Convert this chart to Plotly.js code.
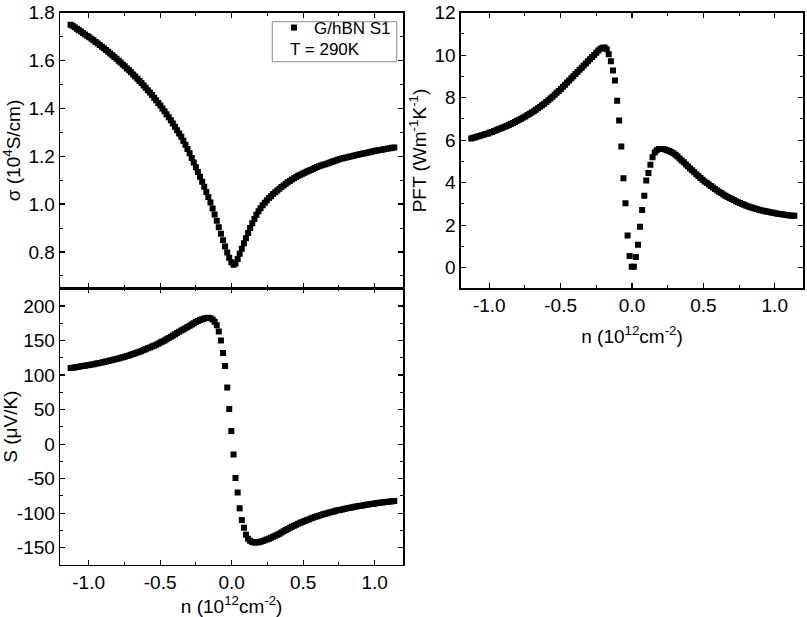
<!DOCTYPE html>
<html>
<head>
<meta charset="utf-8">
<script src="https://cdn.plot.ly/plotly-3.0.1.min.js"></script>
<style>html,body{margin:0;padding:0;background:#fff;}#chart{width:807px;height:617px;}</style>
</head>
<body>
<div id="chart"></div>
<script>
// carrier density n (10^12 cm^-2)
const n = [
-1.126,-1.112,-1.097,-1.082,-1.068,-1.053,-1.039,-1.024,-1.009,-0.995,
-0.980,-0.966,-0.951,-0.936,-0.922,-0.907,-0.893,-0.878,-0.863,-0.849,
-0.834,-0.820,-0.805,-0.790,-0.776,-0.761,-0.747,-0.732,-0.717,-0.703,
-0.688,-0.674,-0.659,-0.644,-0.630,-0.615,-0.601,-0.586,-0.571,-0.557,
-0.542,-0.528,-0.513,-0.498,-0.484,-0.469,-0.455,-0.440,-0.425,-0.411,
-0.396,-0.382,-0.367,-0.352,-0.338,-0.323,-0.309,-0.294,-0.279,-0.265,
-0.250,-0.236,-0.221,-0.206,-0.192,-0.177,-0.163,-0.148,-0.133,-0.119,
-0.104,-0.090,-0.075,-0.060,-0.046,-0.031,-0.017,-0.002,0.013,0.027,
0.042,0.056,0.071,0.086,0.100,0.115,0.129,0.144,0.159,0.173,
0.188,0.202,0.217,0.232,0.246,0.261,0.275,0.290,0.305,0.319,
0.334,0.348,0.363,0.378,0.392,0.407,0.421,0.436,0.451,0.465,
0.480,0.494,0.509,0.524,0.538,0.553,0.567,0.582,0.597,0.611,
0.626,0.640,0.655,0.670,0.684,0.699,0.713,0.728,0.743,0.757,
0.772,0.786,0.801,0.816,0.830,0.845,0.859,0.874,0.889,0.903,
0.918,0.932,0.947,0.962,0.976,0.991,1.005,1.020,1.035,1.049,
1.064,1.078,1.093,1.108,1.122,1.137];

// conductivity sigma (10^4 S/cm)
const sigma = [
1.750,1.745,1.739,1.733,1.727,1.721,1.715,1.709,1.703,1.697,
1.691,1.685,1.678,1.671,1.665,1.658,1.651,1.644,1.637,1.629,
1.622,1.615,1.607,1.599,1.592,1.584,1.576,1.567,1.559,1.551,
1.542,1.533,1.524,1.515,1.506,1.496,1.486,1.476,1.466,1.456,
1.445,1.434,1.423,1.412,1.400,1.388,1.376,1.363,1.350,1.337,
1.323,1.309,1.295,1.281,1.265,1.248,1.230,1.212,1.193,1.174,
1.154,1.134,1.114,1.093,1.072,1.051,1.030,1.007,0.982,0.956,
0.930,0.903,0.876,0.849,0.823,0.798,0.776,0.757,0.746,0.752,
0.770,0.792,0.813,0.836,0.857,0.879,0.900,0.920,0.938,0.955,
0.970,0.983,0.995,1.006,1.016,1.025,1.033,1.042,1.050,1.057,
1.064,1.071,1.078,1.085,1.091,1.097,1.103,1.108,1.113,1.118,
1.123,1.127,1.131,1.135,1.139,1.143,1.147,1.151,1.155,1.158,
1.161,1.164,1.167,1.170,1.173,1.176,1.179,1.182,1.185,1.188,
1.191,1.193,1.195,1.197,1.199,1.201,1.203,1.205,1.207,1.209,
1.211,1.213,1.215,1.217,1.219,1.221,1.223,1.224,1.226,1.227,
1.229,1.230,1.232,1.233,1.235,1.237];

// Seebeck coefficient S (uV/K)
const seebeck = [
110.1,110.6,111.1,111.6,112.1,112.6,113.1,113.6,114.1,114.7,
115.2,115.8,116.4,117.0,117.6,118.2,118.9,119.6,120.3,121.0,
121.7,122.5,123.3,124.1,124.9,125.7,126.6,127.5,128.4,129.4,
130.4,131.5,132.6,133.8,135.0,136.2,137.4,138.7,140.0,141.3,
142.6,144.0,145.5,147.0,148.6,150.2,151.9,153.6,155.4,157.2,
159.0,160.8,162.6,164.4,166.1,167.9,169.6,171.4,173.2,175.0,
176.7,178.2,179.6,180.8,181.8,182.5,182.8,182.3,180.3,177.0,
172.0,163.0,150.0,132.0,113.0,82.0,51.0,19.0,-15.0,-49.0,
-70.0,-93.0,-110.0,-121.0,-131.0,-137.0,-140.0,-141.8,-142.5,-142.5,
-142.0,-141.3,-140.4,-139.3,-138.2,-137.0,-135.6,-134.2,-132.8,-131.3,
-129.6,-127.9,-126.2,-124.5,-122.8,-121.2,-119.7,-118.2,-116.8,-115.4,
-114.0,-112.7,-111.4,-110.2,-109.0,-107.8,-106.7,-105.6,-104.6,-103.6,
-102.6,-101.7,-100.8,-99.9,-99.0,-98.2,-97.4,-96.6,-95.9,-95.2,
-94.5,-93.8,-93.2,-92.6,-92.0,-91.4,-90.8,-90.2,-89.7,-89.2,
-88.7,-88.2,-87.7,-87.2,-86.7,-86.3,-85.8,-85.4,-85.0,-84.6,
-84.2,-83.8,-83.4,-83.0,-82.6,-82.2];

// power factor times temperature PFT (W m^-1 K^-1)
const pft = [
6.08,6.11,6.14,6.17,6.20,6.23,6.26,6.29,6.32,6.36,
6.39,6.43,6.47,6.51,6.55,6.59,6.63,6.67,6.72,6.76,
6.81,6.86,6.91,6.96,7.01,7.07,7.12,7.18,7.24,7.30,
7.36,7.43,7.50,7.57,7.64,7.72,7.80,7.88,7.96,8.05,
8.14,8.23,8.32,8.41,8.51,8.61,8.71,8.81,8.91,9.01,
9.11,9.21,9.31,9.41,9.51,9.61,9.71,9.81,9.91,10.01,
10.11,10.22,10.30,10.35,10.36,10.28,10.05,9.71,9.28,8.81,
7.86,6.93,5.70,4.21,3.03,1.51,0.55,0.05,0.05,0.50,
1.08,1.93,2.72,3.38,4.10,4.46,4.84,5.20,5.42,5.53,
5.58,5.59,5.58,5.56,5.53,5.49,5.44,5.38,5.31,5.23,
5.14,5.05,4.96,4.86,4.77,4.67,4.58,4.49,4.40,4.31,
4.22,4.14,4.06,3.98,3.91,3.84,3.77,3.70,3.63,3.57,
3.51,3.45,3.39,3.33,3.28,3.23,3.18,3.13,3.08,3.04,
3.00,2.96,2.92,2.88,2.85,2.82,2.79,2.76,2.73,2.70,
2.68,2.66,2.64,2.62,2.60,2.58,2.56,2.54,2.53,2.51,
2.50,2.48,2.47,2.46,2.45,2.44];

// tick values / labels
const nTickVals = [-1.0, -0.5, 0.0, 0.5, 1.0];
const nTickText = ["-1.0", "-0.5", "0.0", "0.5", "1.0"];
const sigmaTickVals = [0.8, 1.0, 1.2, 1.4, 1.6, 1.8];
const sigmaTickText = ["0.8", "1.0", "1.2", "1.4", "1.6", "1.8"];
const sTickVals = [-150, -100, -50, 0, 50, 100, 150, 200];
const sTickText = ["-150", "-100", "-50", "0", "50", "100", "150", "200"];
const pftTickVals = [0, 2, 4, 6, 8, 10, 12];
const pftTickText = ["0", "2", "4", "6", "8", "10", "12"];

const legendName = "G/hBN S1";
const tempLabel = "T = 290K";

const FONT = "'Liberation Sans', Arial, sans-serif";
const TICK_SIZE = 19;
const TITLE_SIZE = 19;
const marker = {symbol: 'square', size: 6, color: '#000000', line: {width: 0}};

const traces = [
  {x: n, y: sigma, xaxis: 'x', yaxis: 'y', mode: 'markers', type: 'scatter', name: legendName, marker: marker, showlegend: true},
  {x: n, y: seebeck, xaxis: 'x2', yaxis: 'y2', mode: 'markers', type: 'scatter', name: 'S', marker: marker, showlegend: false},
  {x: n, y: pft, xaxis: 'x3', yaxis: 'y3', mode: 'markers', type: 'scatter', name: 'PFT', marker: marker, showlegend: false}
];

function xAx(domain, anchor, showLabels, title, standoff) {
  const ax = {
    domain: domain, anchor: anchor, range: [-1.2, 1.2],
    tickmode: 'array', tickvals: nTickVals, ticktext: nTickText,
    showticklabels: showLabels,
    ticks: 'inside', ticklen: 5, tickwidth: 1.2, tickcolor: '#000',
    minor: {tickmode: 'linear', tick0: 0, dtick: 0.25, ticks: 'inside', ticklen: 3, tickwidth: 1, tickcolor: '#000'},
    showline: true, linecolor: '#000', linewidth: 1.3, mirror: 'allticks',
    showgrid: false, zeroline: false,
    tickfont: {family: FONT, size: TICK_SIZE, color: '#000'}
  };
  if (title) ax.title = {text: title, font: {family: FONT, size: TITLE_SIZE, color: '#000'}, standoff: standoff};
  return ax;
}
function yAx(domain, anchor, range, vals, text, minorDtick, title) {
  return {
    domain: domain, anchor: anchor, range: range,
    tickmode: 'array', tickvals: vals, ticktext: text,
    ticks: 'inside', ticklen: 5, tickwidth: 1.2, tickcolor: '#000',
    minor: {tickmode: 'linear', tick0: 0, dtick: minorDtick, ticks: 'inside', ticklen: 3, tickwidth: 1, tickcolor: '#000'},
    showline: true, linecolor: '#000', linewidth: 1.3, mirror: 'allticks',
    showgrid: false, zeroline: false,
    tickfont: {family: FONT, size: TICK_SIZE, color: '#000'},
    title: {text: title, font: {family: FONT, size: TITLE_SIZE, color: '#000'}, standoff: 2}
  };
}

const LX = [0.07435, 0.49975];
const RX = [0.57088, 0.99542];
const TOPY = [0.53274, 0.97942];
const BOTY = [0.08428, 0.53274];

const layout = {
  width: 807, height: 617,
  margin: {l: 0, r: 0, t: 0, b: 0},
  paper_bgcolor: '#ffffff', plot_bgcolor: '#ffffff',
  font: {family: FONT, color: '#000'},
  xaxis: xAx(LX, 'y', false, null, 0),
  yaxis: yAx(TOPY, 'x', [0.648, 1.8], sigmaTickVals, sigmaTickText, 0.1, 'σ (10<sup>4</sup>S/cm)'),
  xaxis2: xAx(LX, 'y2', true, 'n (10<sup>12</sup>cm<sup>-2</sup>)', 2),
  yaxis2: yAx(BOTY, 'x2', [-175, 225.6], sTickVals, sTickText, 25, 'S (μV/K)'),
  xaxis3: xAx(RX, 'y3', true, 'n (10<sup>12</sup>cm<sup>-2</sup>)', 14),
  yaxis3: yAx(TOPY, 'x3', [-0.97, 12], pftTickVals, pftTickText, 1, 'PFT (Wm<sup>-1</sup>K<sup>-1</sup>)'),
  showlegend: true,
  legend: {
    x: 0.3395, y: 0.9838, xanchor: 'left', yanchor: 'top',
    bgcolor: 'rgba(0,0,0,0)', borderwidth: 0,
    font: {family: FONT, size: 17, color: '#000'},
    itemwidth: 30, tracegroupgap: 0
  },
  shapes: [
    {type: 'rect', xref: 'paper', yref: 'paper', x0: 0.3374, x1: 0.4916, y0: 0.9000, y1: 0.9648,
     line: {color: '#8c8c8c', width: 1}, fillcolor: 'rgba(0,0,0,0)'}
  ],
  annotations: [
    {xref: 'paper', yref: 'paper', x: 0.4027, y: 0.9205, text: tempLabel, showarrow: false,
     xanchor: 'center', yanchor: 'middle', font: {family: FONT, size: 17, color: '#000'}}
  ]
};

Plotly.newPlot('chart', traces, layout, {staticPlot: true, displayModeBar: false});
</script>
</body>
</html>
